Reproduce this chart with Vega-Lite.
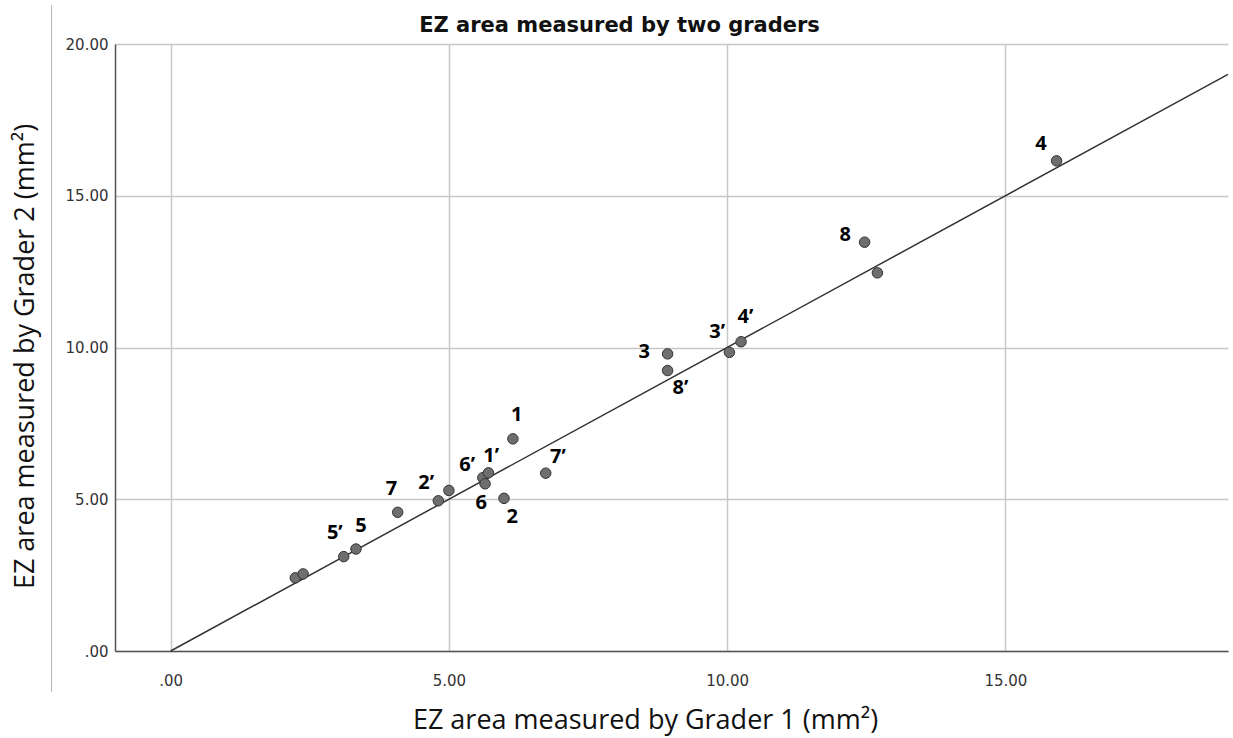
{
  "$schema": "https://vega.github.io/schema/vega-lite/v6.json",
  "width": 1113,
  "height": 607,
  "autosize": {"type": "none"},
  "padding": {"left": 115, "top": 44, "right": 5, "bottom": 87},
  "background": "white",
  "config": {"view": {"stroke": null}},
  "title": {
    "text": "EZ area measured by two graders",
    "font": "DejaVu Sans",
    "fontSize": 21,
    "fontWeight": "bold",
    "color": "#111111",
    "anchor": "middle",
    "dx": -52,
    "dy": 58,
    "offset": 10,
    "baseline": "alphabetic"
  },
  "datasets": {
    "points": [
      {"g1": 2.24, "g2": 2.41},
      {"g1": 2.38, "g2": 2.54},
      {"g1": 3.11, "g2": 3.11},
      {"g1": 3.33, "g2": 3.36},
      {"g1": 4.08, "g2": 4.57},
      {"g1": 4.81, "g2": 4.95},
      {"g1": 5.0, "g2": 5.29},
      {"g1": 5.61, "g2": 5.71},
      {"g1": 5.71, "g2": 5.87},
      {"g1": 5.65, "g2": 5.51},
      {"g1": 5.99, "g2": 5.03},
      {"g1": 6.15, "g2": 6.99},
      {"g1": 6.74, "g2": 5.86},
      {"g1": 8.93, "g2": 9.79},
      {"g1": 8.93, "g2": 9.24},
      {"g1": 10.04, "g2": 9.84},
      {"g1": 10.25, "g2": 10.19},
      {"g1": 12.47, "g2": 13.47},
      {"g1": 12.70, "g2": 12.46},
      {"g1": 15.92, "g2": 16.15}
    ],
    "labels": [
      {"lab": "1", "g1": 6.22, "g2": 7.78},
      {"lab": "7’", "g1": 6.96, "g2": 6.38},
      {"lab": "6’", "g1": 5.33, "g2": 6.13},
      {"lab": "1’", "g1": 5.76, "g2": 6.43},
      {"lab": "2’", "g1": 4.59, "g2": 5.53},
      {"lab": "7", "g1": 3.97, "g2": 5.33},
      {"lab": "6", "g1": 5.58, "g2": 4.87},
      {"lab": "2", "g1": 6.14, "g2": 4.41},
      {"lab": "5", "g1": 3.42, "g2": 4.13},
      {"lab": "5’", "g1": 2.95, "g2": 3.88},
      {"lab": "3", "g1": 8.51, "g2": 9.86},
      {"lab": "8’", "g1": 9.16, "g2": 8.66},
      {"lab": "3’", "g1": 9.82, "g2": 10.52},
      {"lab": "4’", "g1": 10.33, "g2": 11.01},
      {"lab": "4", "g1": 15.64, "g2": 16.71},
      {"lab": "8", "g1": 12.12, "g2": 13.71}
    ],
    "ref": [
      {"g1": 0, "g2": 0},
      {"g1": 19, "g2": 19}
    ],
    "border": [
      {"g1": -2.14, "g2": 21.28, "g2end": -1.35}
    ]
  },
  "encoding": {
    "x": {
      "field": "g1",
      "type": "quantitative",
      "scale": {"domain": [-1, 19], "nice": false, "zero": false},
      "axis": {
        "values": [0, 5, 10, 15],
        "labelExpr": "datum.value == 0 ? '.00' : format(datum.value, '.2f')",
        "title": "EZ area measured by Grader 1 (mm²)",
        "titleFont": "Open Sans",
        "titleFontSize": 27,
        "titleFontWeight": "normal",
        "titleColor": "#111111",
        "titleX": 530,
        "titleY": 69,
        "titleBaseline": "middle",
        "titleAnchor": "middle",
        "labelFont": "DejaVu Sans",
        "labelFontSize": 15,
        "labelColor": "#333333",
        "labelPadding": 22,
        "ticks": false,
        "domainColor": "#555555",
        "domainWidth": 1.5,
        "grid": true,
        "gridColor": "#c8c8c8",
        "gridWidth": 1.5
      }
    },
    "y": {
      "field": "g2",
      "type": "quantitative",
      "scale": {"domain": [0, 20], "nice": false},
      "axis": {
        "values": [0, 5, 10, 15, 20],
        "labelExpr": "datum.value == 0 ? '.00' : format(datum.value, '.2f')",
        "title": "EZ area measured by Grader 2 (mm²)",
        "titleFont": "Open Sans",
        "titleFontSize": 27,
        "titleFontWeight": "normal",
        "titleColor": "#111111",
        "titleX": -90,
        "titleY": 312,
        "titleAngle": -90,
        "titleBaseline": "middle",
        "titleAnchor": "middle",
        "labelFont": "DejaVu Sans",
        "labelFontSize": 15,
        "labelColor": "#333333",
        "labelPadding": 7,
        "ticks": false,
        "domainColor": "#555555",
        "domainWidth": 1.5,
        "grid": true,
        "gridColor": "#c8c8c8",
        "gridWidth": 1.5
      }
    }
  },
  "layer": [
    {
      "data": {"name": "border"},
      "mark": {"type": "rule", "color": "#b4b4b4", "strokeWidth": 1, "clip": false},
      "encoding": {"y2": {"field": "g2end"}}
    },
    {
      "data": {"name": "ref"},
      "mark": {"type": "line", "color": "#333333", "strokeWidth": 1.5},
      "encoding": {}
    },
    {
      "data": {"name": "points"},
      "mark": {"type": "point", "filled": true, "fill": "#6e6e6e", "stroke": "#333333", "strokeWidth": 1, "size": 110, "opacity": 1, "fillOpacity": 1}
    },
    {
      "data": {"name": "labels"},
      "mark": {"type": "text", "font": "Open Sans", "fontSize": 20, "fontWeight": "bold", "color": "#000000", "align": "center", "baseline": "middle"},
      "encoding": {"text": {"field": "lab"}}
    }
  ]
}
